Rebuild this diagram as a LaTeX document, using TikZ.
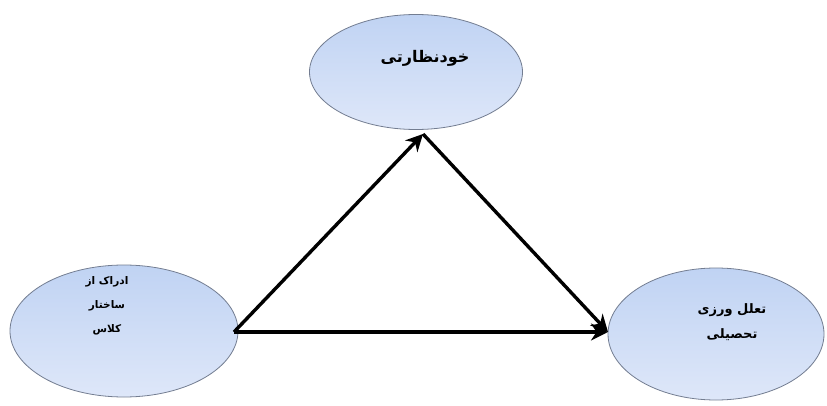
\documentclass[tikz,border=0pt]{standalone}
\usepackage{fontspec}
\usetikzlibrary{shapes.geometric,arrows.meta}
\TeXXeTstate=1
\newfontfamily\arabicfont[Script=Arabic]{DejaVu Sans}
\definecolor{ellfill}{RGB}{192,211,243}
\definecolor{ellfilltwo}{RGB}{222,231,249}
\definecolor{ellline}{RGB}{115,125,145}
\tikzset{
  varnode/.style={ellipse, draw=ellline, line width=0.8pt, top color=ellfill, bottom color=ellfilltwo, inner sep=0pt},
  conn/.style={line width=3.4pt, -{Stealth[length=17pt,width=17pt]}},
  lbl/.style={font=\arabicfont\bfseries, align=center}
}
\begin{document}
\begin{tikzpicture}[x=1pt,y=-1pt]
\useasboundingbox (0,0) rectangle (827,406);
\fill[white] (0,0) rectangle (827,406);
% ellipses
\node[varnode, minimum width=213pt, minimum height=115pt] (T) at (416,72) {};
\node[varnode, minimum width=228pt, minimum height=132pt] (L) at (124,331) {};
\node[varnode, minimum width=216pt, minimum height=132pt] (R) at (716,334) {};
% labels
\node[lbl, font=\arabicfont\bfseries\fontsize{16}{16}\selectfont] (tT) at (425,58) {\beginR خودنظارتی\endR};
\node[lbl, font=\arabicfont\bfseries\fontsize{10.5}{24}\selectfont] (tL) at (107,306) {\beginR ادراک از\endR\\\beginR ساختار\endR\\\beginR کلاس\endR};
\node[lbl, font=\arabicfont\bfseries\fontsize{13}{25}\selectfont] (tR) at (732,322) {\beginR تعلل ورزی\endR\\\beginR تحصیلی\endR};
% connectors
\coordinate (s) at (234,332);
\coordinate (tip) at (423,134);
\coordinate (rt) at (608,332);
\draw[conn] (s) -- (tip);
\draw[conn] (tip) -- (rt);
\draw[conn] (s) -- (rt);
\end{tikzpicture}
\end{document}
